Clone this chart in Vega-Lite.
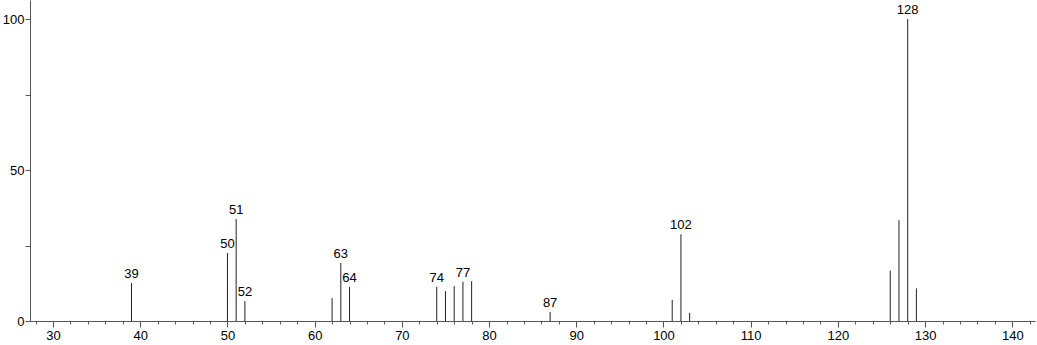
{
  "$schema": "https://vega.github.io/schema/vega-lite/v6.json",
  "width": 1005,
  "height": 321,
  "autosize": {"type": "none"},
  "padding": {"left": 30, "top": 0, "right": 2, "bottom": 24},
  "background": "white",
  "config": {"view": {"stroke": null}, "font": "Liberation Sans"},
  "data": {"values": [
    {"mz": 39, "intensity": 12.6, "label": "39"},
    {"mz": 50, "intensity": 22.5, "label": "50"},
    {"mz": 51, "intensity": 33.8, "label": "51"},
    {"mz": 52, "intensity": 6.6, "label": "52"},
    {"mz": 62, "intensity": 7.6, "label": ""},
    {"mz": 63, "intensity": 19.2, "label": "63"},
    {"mz": 64, "intensity": 11.3, "label": "64"},
    {"mz": 74, "intensity": 11.3, "label": "74"},
    {"mz": 75, "intensity": 9.9, "label": ""},
    {"mz": 76, "intensity": 11.6, "label": ""},
    {"mz": 77, "intensity": 13.0, "label": "77"},
    {"mz": 78, "intensity": 13.2, "label": ""},
    {"mz": 87, "intensity": 3.0, "label": "87"},
    {"mz": 101, "intensity": 7.0, "label": ""},
    {"mz": 102, "intensity": 28.7, "label": "102"},
    {"mz": 103, "intensity": 2.7, "label": ""},
    {"mz": 126, "intensity": 16.7, "label": ""},
    {"mz": 127, "intensity": 33.4, "label": ""},
    {"mz": 128, "intensity": 100, "label": "128"},
    {"mz": 129, "intensity": 10.8, "label": ""}
  ]},
  "layer": [
    {
      "mark": {"type": "rule", "color": "#222222", "strokeWidth": 1},
      "encoding": {
        "x": {
          "field": "mz", "type": "quantitative",
          "scale": {"domain": [27.36, 142.6], "nice": false, "zero": false},
          "axis": {
            "title": null, "grid": false, "tickCount": 200, "format": "d",
            "values": [28,30,32,34,36,38,40,42,44,46,48,50,52,54,56,58,60,62,64,66,68,70,72,74,76,78,80,82,84,86,88,90,92,94,96,98,100,102,104,106,108,110,112,114,116,118,120,122,124,126,128,130,132,134,136,138,140,142],
            "labelExpr": "datum.value % 10 === 0 ? datum.label : ''",
            "labelOverlap": false, "labelFlush": false, "labelBound": false,
            "labelFontSize": 13, "labelColor": "#000000", "labelPadding": 2,
            "domainColor": "#555555", "tickColor": "#555555",
            "tickSize": {"condition": {"test": "datum.value % 10 === 0", "value": 6}, "value": 3}
          }
        },
        "y": {
          "field": "intensity", "type": "quantitative",
          "scale": {"domain": [0, 106.3], "nice": false},
          "axis": {
            "title": null, "grid": false, "tickCount": 20, "format": "d",
            "values": [0, 25, 50, 75, 100],
            "labelExpr": "datum.value % 50 === 0 ? datum.label : ''",
            "labelFontSize": 13, "labelColor": "#000000", "labelPadding": 1,
            "domainColor": "#555555", "tickColor": "#555555", "tickSize": 5
          }
        },
        "y2": {"datum": 0}
      }
    },
    {
      "transform": [{"filter": "datum.label != ''"}],
      "mark": {"type": "text", "baseline": "bottom", "dy": -2, "fontSize": 13, "color": "#000000"},
      "encoding": {
        "x": {"field": "mz", "type": "quantitative"},
        "y": {"field": "intensity", "type": "quantitative"},
        "text": {"field": "label"}
      }
    }
  ]
}
